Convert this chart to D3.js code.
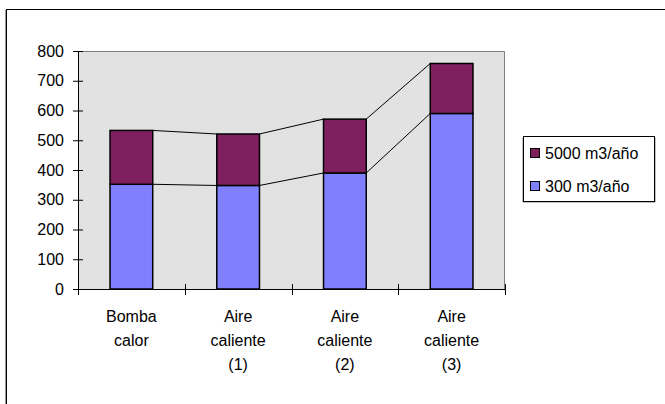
<!DOCTYPE html>
<html>
<head>
<meta charset="utf-8">
<script src="https://cdn.jsdelivr.net/npm/d3@7"></script>
<style>
  html, body { margin: 0; padding: 0; background: #fff; }
  svg { display: block; font-family: "Liberation Sans", Arial, sans-serif; }
</style>
</head>
<body>
<svg id="chart" width="665" height="404"></svg>
<script>
// Categories (multi-line labels) and stacked series values
const categories = ["Bomba calor", "Aire caliente (1)", "Aire caliente (2)", "Aire caliente (3)"];
const categoryLines = [["Bomba", "calor"], ["Aire", "caliente", "(1)"], ["Aire", "caliente", "(2)"], ["Aire", "caliente", "(3)"]];
const series300 = [352, 348, 390, 590];
const series5000 = [181, 173, 181, 168];
const seriesNames = ["300 m3/año", "5000 m3/año"];
const seriesColors = ["#8080ff", "#801f60"];
const yTicks = [0, 100, 200, 300, 400, 500, 600, 700, 800];

const svg = d3.select("#chart");
const plot = { left: 78, right: 505, top: 51, bottom: 289 };

// Outer chart frame
svg.append("rect")
  .attr("x", 6.5).attr("y", 9.5).attr("width", 700).attr("height", 500)
  .attr("fill", "none").attr("stroke", "#000").attr("stroke-width", 1);
svg.append("line")
  .attr("x1", 5.5).attr("x2", 5.5).attr("y1", 10).attr("y2", 404)
  .attr("stroke", "#999");

const x = d3.scaleBand().domain(categories).range([plot.left, plot.right]).paddingInner(0).paddingOuter(0);
const y = d3.scaleLinear().domain([0, 800]).range([plot.bottom, plot.top]);

// Plot area background
svg.append("rect")
  .attr("x", plot.left).attr("y", plot.top)
  .attr("width", plot.right - plot.left).attr("height", plot.bottom - plot.top)
  .attr("fill", "#e2e2e2");
svg.append("path")
  .attr("d", `M${plot.left},${plot.top + 0.5}H${plot.right - 0.5}V${plot.bottom}`)
  .attr("fill", "none").attr("stroke", "#808080");

// Stack the two series
const rows = categories.map((c, i) => ({ cat: c, s300: series300[i], s5000: series5000[i] }));
const stacked = d3.stack().keys(["s300", "s5000"])(rows);

const barW = x.bandwidth() * 0.4;
const barX = c => x(c) + (x.bandwidth() - barW) / 2;

// Series connector lines between adjacent bars
stacked.forEach(layer => {
  for (let i = 0; i < categories.length - 1; i++) {
    svg.append("line")
      .attr("x1", barX(categories[i]) + barW).attr("y1", y(layer[i][1]))
      .attr("x2", barX(categories[i + 1])).attr("y2", y(layer[i + 1][1]))
      .attr("stroke", "#000").attr("stroke-width", 1);
  }
});

// Bars
stacked.forEach((layer, li) => {
  svg.append("g").selectAll("rect").data(layer).join("rect")
    .attr("x", d => barX(d.data.cat))
    .attr("y", d => y(d[1]))
    .attr("width", barW)
    .attr("height", d => y(d[0]) - y(d[1]))
    .attr("fill", seriesColors[li])
    .attr("stroke", "#000").attr("stroke-width", 1.5);
});

// Y axis with crossing ticks
const yAxis = svg.append("g").attr("transform", `translate(${plot.left},0)`)
  .call(d3.axisLeft(y).tickValues(yTicks).tickSize(5).tickSizeInner(5).tickPadding(8));
yAxis.select(".domain").attr("stroke", "#000").attr("d", `M0.5,${plot.top}V${plot.bottom}`);
yAxis.selectAll(".tick line").attr("x1", -5).attr("x2", 5).attr("stroke", "#000");
yAxis.selectAll(".tick text").attr("font-size", 16).attr("fill", "#000")
  .attr("font-family", "'Liberation Sans', Arial, sans-serif").attr("x", -14);

// X axis: ticks at category boundaries
const xAxisG = svg.append("g").attr("transform", `translate(0,${plot.bottom})`);
xAxisG.append("line").attr("x1", plot.left).attr("x2", plot.right).attr("y1", 0.5).attr("y2", 0.5).attr("stroke", "#000");
const boundaries = categories.map(c => x(c) + x.bandwidth()).concat([plot.left]);
xAxisG.selectAll(".bt").data(boundaries).join("line")
  .attr("x1", d => Math.round(d) + 0.5).attr("x2", d => Math.round(d) + 0.5)
  .attr("y1", -5).attr("y2", 6).attr("stroke", "#000");

// Category labels
categories.forEach((c, i) => {
  const t = svg.append("text")
    .attr("x", x(c) + x.bandwidth() / 2).attr("y", 322)
    .attr("text-anchor", "middle").attr("font-size", 16).attr("fill", "#000");
  categoryLines[i].forEach((ln, j) => {
    t.append("tspan").attr("x", x(c) + x.bandwidth() / 2).attr("y", 322 + j * 24).text(ln);
  });
});

// Legend
const lg = svg.append("g");
lg.append("rect").attr("x", 522.5).attr("y", 137.5).attr("width", 133).attr("height", 65).attr("fill", "#888");
lg.append("rect").attr("x", 523.5).attr("y", 136.5).attr("width", 131).attr("height", 65)
  .attr("fill", "#fff").attr("stroke", "#000");
const legendItems = [1, 0];
legendItems.forEach((si, k) => {
  const cy = 153 + k * 33;
  lg.append("rect").attr("x", 530.5).attr("y", cy - 4.5).attr("width", 9).attr("height", 9)
    .attr("fill", seriesColors[si]).attr("stroke", "#000");
  lg.append("text").attr("x", 545).attr("y", cy + 6).attr("font-size", 16).attr("fill", "#000")
    .text(seriesNames[si]);
});
</script>
</body>
</html>
